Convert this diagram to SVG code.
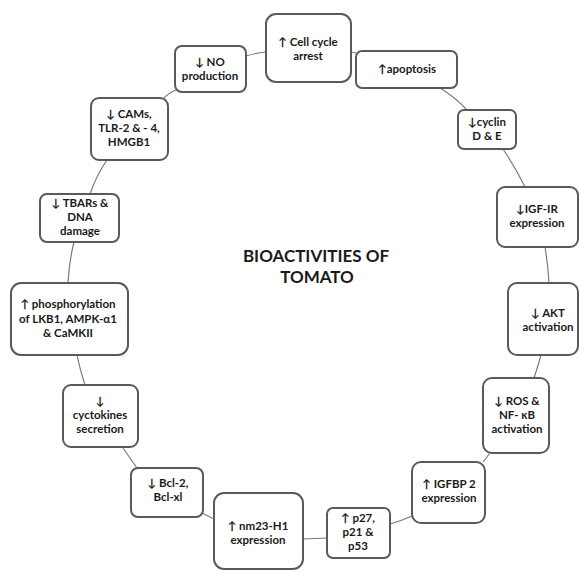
<svg xmlns="http://www.w3.org/2000/svg" width="579" height="572" viewBox="0 0 579 572">
<style>
.box{fill:#fff;stroke:#5a5a5a;stroke-width:2}
.t{font-family:Lato,"Liberation Sans",sans-serif;font-weight:bold;font-size:11.5px;fill:#1a1a1a;text-anchor:middle}
.title{font-family:Lato,"Liberation Sans",sans-serif;font-weight:bold;font-size:17px;fill:#1a1a1a;text-anchor:middle}
.c{fill:none;stroke:#7a7a7a;stroke-width:1.2}
</style>
<rect width="579" height="572" fill="#fff"/>
<g id="connectors">
<path class="c" d="M246,56 Q256,53 266,52"/>
<path class="c" d="M351,52 L356,53"/>
<path class="c" d="M440,88 Q455,97 467,110"/>
<path class="c" d="M503,149 Q515,167 525,187"/>
<path class="c" d="M545,247 Q548,265 549,283"/>
<path class="c" d="M541,355 Q538,366 534,378"/>
<path class="c" d="M490,453 L483,462"/>
<path class="c" d="M412,516 Q401,521 390,524"/>
<path class="c" d="M327,538 L303,539"/>
<path class="c" d="M214,519 Q208,516 202,513"/>
<path class="c" d="M137,468 Q130,458 123,448"/>
<path class="c" d="M85,385 Q80,370 77,355"/>
<path class="c" d="M68,283 Q69,262 74,242"/>
<path class="c" d="M90,194 Q96,176 107,160"/>
<path class="c" d="M162,100 Q168,93 178,89"/>
</g>
<g id="n-cellcycle"><rect class="box" x="266" y="14" width="85" height="68" rx="10"/><text class="t" x="308" y="46">↑ Cell cycle</text><text class="t" x="308" y="60">arrest</text></g>
<g id="n-apoptosis"><rect class="box" x="356" y="51" width="101" height="37" rx="6"/><text class="t" x="407" y="73">↑apoptosis</text></g>
<g id="n-cyclin"><rect class="box" x="458" y="110" width="58" height="39" rx="6"/><text class="t" x="487" y="126">↓cyclin</text><text class="t" x="487" y="140">D &amp; E</text></g>
<g id="n-igfir"><rect class="box" x="497" y="187" width="81" height="60" rx="8"/><text class="t" x="537" y="213">↓IGF-IR</text><text class="t" x="537" y="227">expression</text></g>
<g id="n-akt"><rect class="box" x="508" y="283" width="70" height="72" rx="9"/><text class="t" x="548" y="317">↓ AKT</text><text class="t" x="548" y="331">activation</text></g>
<g id="n-ros"><rect class="box" x="483" y="378" width="66" height="75" rx="9"/><text class="t" x="517" y="405">↓ ROS &amp;</text><text class="t" x="517" y="419">NF- κB</text><text class="t" x="517" y="433">activation</text></g>
<g id="n-igfbp"><rect class="box" x="412" y="462" width="73" height="61" rx="9"/><text class="t" x="449" y="488">↑ IGFBP 2</text><text class="t" x="449" y="502">expression</text></g>
<g id="n-p27"><rect class="box" x="327" y="508" width="63" height="50" rx="6"/><text class="t" x="358" y="522">↑ p27,</text><text class="t" x="358" y="536">p21 &amp;</text><text class="t" x="358" y="550">p53</text></g>
<g id="n-nm23"><rect class="box" x="214" y="493" width="89" height="76" rx="10"/><text class="t" x="258" y="530">↑ nm23-H1</text><text class="t" x="258" y="544">expression</text></g>
<g id="n-bcl"><rect class="box" x="131" y="468" width="72" height="49" rx="7"/><text class="t" x="168" y="487">↓ Bcl-2,</text><text class="t" x="168" y="501">Bcl-xl</text></g>
<g id="n-cytokines"><rect class="box" x="63" y="385" width="75" height="62" rx="8"/><text class="t" x="100" y="405">↓</text><text class="t" x="100" y="419">cyctokines</text><text class="t" x="100" y="433">secretion</text></g>
<g id="n-phos"><rect class="box" x="11" y="283" width="117" height="72" rx="10"/><text class="t" x="68" y="308">↑ phosphorylation</text><text class="t" x="68" y="323">of LKB1, AMPK-α1</text><text class="t" x="68" y="337">&amp; CaMKII</text></g>
<g id="n-tbars"><rect class="box" x="40" y="194" width="79" height="48" rx="7"/><text class="t" x="80" y="207">↓ TBARs &amp;</text><text class="t" x="80" y="221">DNA</text><text class="t" x="80" y="235">damage</text></g>
<g id="n-cams"><rect class="box" x="91" y="98" width="77" height="62" rx="8"/><text class="t" x="129" y="118">↓ CAMs,</text><text class="t" x="129" y="132">TLR-2 &amp; - 4,</text><text class="t" x="129" y="146">HMGB1</text></g>
<g id="n-no"><rect class="box" x="175" y="46" width="71" height="46" rx="7"/><text class="t" x="210" y="66">↓ NO</text><text class="t" x="210" y="80">production</text></g>
<g id="title"><text class="title" x="316" y="262">BIOACTIVITIES OF</text><text class="title" x="317" y="283">TOMATO</text></g>
</svg>
